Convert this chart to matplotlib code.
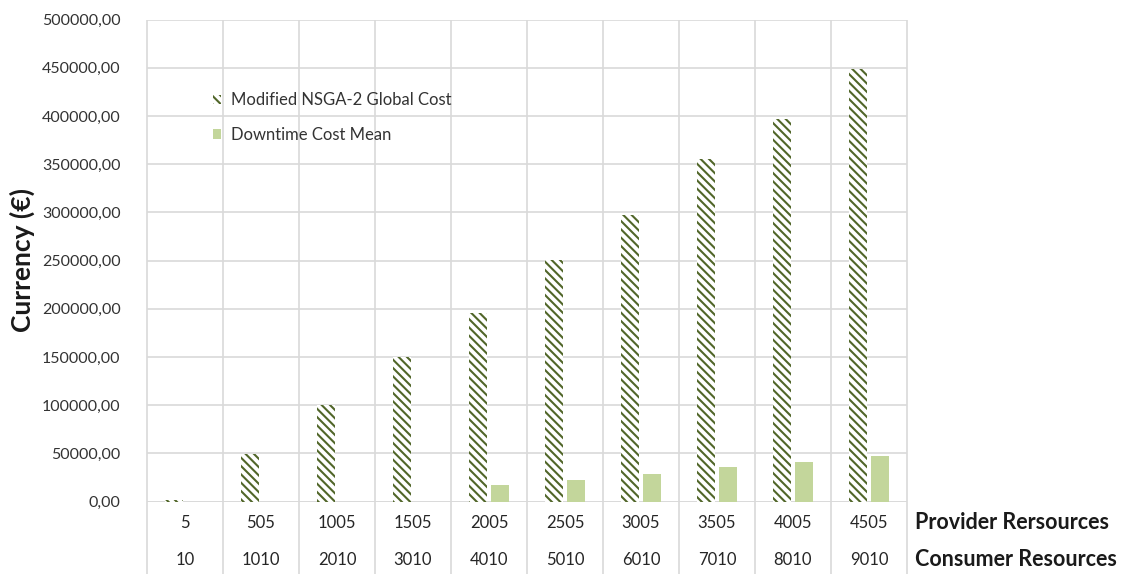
import numpy as np
import matplotlib
matplotlib.use('Agg')
from matplotlib import pyplot as plt
from matplotlib.patches import Patch
from matplotlib.ticker import FuncFormatter

provider_resources = ['5', '505', '1005', '1505', '2005', '2505', '3005', '3505', '4005', '4505']
consumer_resources = ['10', '1010', '2010', '3010', '4010', '5010', '6010', '7010', '8010', '9010']
global_cost = [1500, 49000, 100000, 150000, 196000, 251000, 297000, 355500, 397000, 448500]
downtime_cost = [0, 0, 0, 0, 16800, 21800, 29000, 35600, 40500, 47200]

hatch_colour = '#516629'
light_colour = '#c3d69b'
grid_colour = '#d9d9d9'
text_colour = '#333333'

plt.rcParams['font.family'] = ['Lato', 'DejaVu Sans']
plt.rcParams['hatch.linewidth'] = 1.5

fig = plt.figure(figsize=(11.27, 5.74), dpi=100)
ax = fig.add_axes([147 / 1127, 1 - 501.5 / 574, 760 / 1127, 482 / 574])

x = np.arange(len(provider_resources))
bar_width = 0.23
ax.bar(x - 0.145, global_cost, bar_width, facecolor='white', edgecolor=hatch_colour,
       hatch='\\\\\\\\', linewidth=0, zorder=3)
ax.bar(x + 0.145, downtime_cost, bar_width, color=light_colour, linewidth=0, zorder=3)

ax.set_xlim(-0.5, len(x) - 0.5)
ax.set_ylim(0, 500000)
ax.set_yticks(np.arange(0, 500001, 50000))
ax.yaxis.set_major_formatter(FuncFormatter(lambda v, p: f'{v:.2f}'.replace('.', ',')))
ax.tick_params(axis='y', length=0, pad=19, labelsize=11.5, labelcolor=text_colour)
ax.set_xticks([])
ax.grid(axis='y', color=grid_colour, linewidth=1.2, zorder=0)
for s in ax.spines.values():
    s.set_visible(False)
ax.axhline(0, color=grid_colour, linewidth=1.2, zorder=1)

# category separators reaching down through the label table
ax.vlines(np.arange(len(x) + 1) - 0.5, -0.151, 1, transform=ax.get_xaxis_transform(),
          color=grid_colour, linewidth=1.2, clip_on=False, zorder=1)

for i in x:
    ax.text(i, -0.0446, provider_resources[i], transform=ax.get_xaxis_transform(),
            ha='center', va='center', fontsize=12, color='#262626')
    ax.text(i, -0.121, consumer_resources[i], transform=ax.get_xaxis_transform(),
            ha='center', va='center', fontsize=12, color='#262626')
ax.text(1.0105, -0.0446, 'Provider Rersources', transform=ax.transAxes,
        ha='left', va='center', fontsize=15.5, fontweight='bold', color='#1a1a1a')
ax.text(1.0105, -0.121, 'Consumer Resources', transform=ax.transAxes,
        ha='left', va='center', fontsize=15.5, fontweight='bold', color='#1a1a1a')

fig.text(22 / 1127, 1 - 260 / 574, 'Currency (€)', rotation=90, ha='center', va='center',
         fontsize=19, fontweight='bold', color='#1a1a1a')

handles = [Patch(facecolor='white', edgecolor=hatch_colour, hatch='\\\\\\\\', linewidth=0),
           Patch(facecolor=light_colour, linewidth=0)]
ax.legend(handles, ['Modified NSGA-2 Global Cost', 'Downtime Cost Mean'],
          loc='upper left', bbox_to_anchor=(0.067, 0.88), frameon=False, fontsize=12,
          handlelength=0.5, handleheight=0.5, handletextpad=0.6, labelspacing=1.1,
          labelcolor=text_colour)

plt.savefig('out.png', dpi=100)
